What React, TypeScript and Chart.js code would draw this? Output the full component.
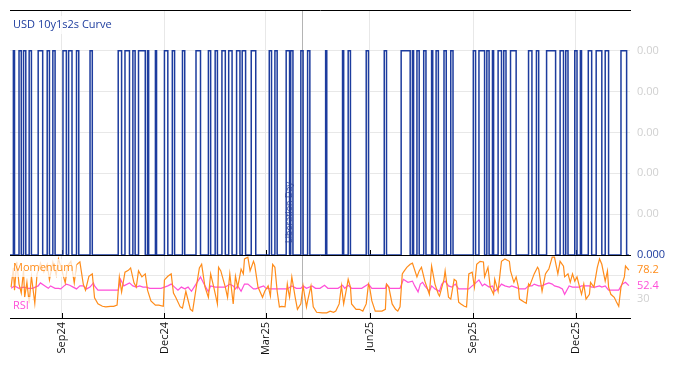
import React, { useEffect, useRef } from 'react';
import { Chart, registerables } from 'chart.js';

Chart.register(...registerables);

// Dates are counted in days from 2024-07-01.
const dayStart = 16;
const dayEnd = 566;
const monthDays = [62, 153, 243, 335, 427, 518];
const monthLabels = ['Sep24', 'Dec24', 'Mar25', 'Jun25', 'Sep25', 'Dec25'];

const titleText = 'USD 10y1s2s Curve';
const eventDay = 275;
const eventLabel = 'Liberation Day';

// Curve signal: value when "on", and [on, off] day pairs
const signalHigh = 0.001;
const signalLast = 0;
const signalPulses: [number, number][] = [
  [19, 20], [24, 26], [28, 30], [33, 35], [41, 45], [49, 51], [54, 56], [63, 66], [68, 71], [75, 77],
  [87, 89], [112, 115], [118, 122], [125, 127], [130, 136], [138, 139], [145, 146], [153, 156], [160, 162], [169, 171],
  [181, 185], [192, 194], [198, 200], [204, 207], [210, 213], [217, 220], [222, 225], [230, 234], [246, 248], [251, 253],
  [261, 264], [265, 267], [274, 276], [280, 282], [296, 297], [311, 312], [316, 318], [332, 334], [348, 350], [363, 371],
  [373, 374], [377, 379], [383, 385], [390, 391], [394, 396], [401, 403], [407, 409], [427, 429], [432, 437], [439, 441],
  [444, 445], [449, 452], [454, 456], [460, 465], [476, 479], [483, 485], [492, 500], [504, 507], [509, 511], [517, 519],
  [522, 523], [529, 532], [536, 541], [544, 547], [558, 563],
];

// Momentum [day, value]
const momentum: [number, number][] = [
  [17, 50], [19, 82], [20, 45], [22, 92], [24, 55], [26, 40], [28, 78], [29, 33], [31, 58], [33, 23],
  [35, 68], [36, 53], [38, 23], [40, 72], [42, 82], [43, 90], [46, 75], [49, 88], [51, 62], [54, 92],
  [57, 70], [59, 97], [62, 78], [65, 57], [67, 85], [70, 93], [73, 57], [75, 87], [78, 92], [81, 55],
  [83, 45], [86, 68], [89, 72], [91, 32], [94, 22], [98, 18], [101, 17], [105, 18], [108, 18], [111, 20],
  [113, 67], [115, 42], [118, 75], [121, 78], [123, 82], [126, 57], [128, 50], [130, 77], [133, 67], [136, 72],
  [138, 45], [141, 27], [145, 20], [148, 20], [152, 18], [153, 62], [156, 68], [159, 72], [161, 40], [163, 33],
  [167, 17], [169, 15], [172, 43], [176, 13], [178, 10], [181, 47], [184, 82], [186, 88], [189, 50], [192, 33],
  [194, 72], [197, 48], [200, 22], [201, 83], [203, 77], [207, 50], [209, 33], [211, 72], [214, 22], [216, 68],
  [218, 50], [221, 80], [223, 72], [224, 97], [227, 100], [229, 77], [232, 93], [233, 88], [236, 50], [240, 33],
  [242, 43], [245, 52], [247, 35], [249, 88], [251, 83], [253, 43], [255, 17], [257, 18], [260, 17], [262, 55],
  [263, 43], [264, 33], [266, 67], [269, 33], [271, 13], [274, 22], [276, 52], [279, 17], [280, 27], [283, 52],
  [285, 17], [288, 8], [293, 7], [297, 7], [300, 10], [303, 8], [305, 10], [308, 22], [310, 52], [312, 22],
  [315, 52], [316, 63], [318, 50], [319, 22], [323, 13], [326, 13], [329, 10], [332, 22], [334, 55], [335, 50],
  [337, 27], [340, 10], [343, 10], [346, 10], [349, 13], [350, 55], [352, 50], [355, 22], [358, 13], [360, 10],
  [362, 17], [364, 72], [365, 75], [368, 83], [371, 88], [373, 90], [377, 67], [379, 77], [381, 83], [384, 60],
  [388, 38], [390, 85], [393, 55], [396, 38], [397, 35], [401, 63], [402, 77], [405, 33], [407, 30], [410, 63],
  [412, 60], [414, 25], [416, 22], [419, 18], [421, 17], [423, 72], [426, 75], [428, 50], [430, 88], [433, 93],
  [436, 92], [437, 67], [440, 83], [442, 50], [445, 38], [446, 63], [449, 43], [451, 77], [452, 93], [455, 97],
  [459, 93], [460, 77], [463, 58], [465, 67], [467, 50], [468, 30], [472, 25], [474, 23], [476, 55], [477, 52],
  [481, 72], [484, 83], [485, 80], [488, 43], [491, 72], [492, 75], [494, 80], [497, 100], [499, 100], [502, 72],
  [504, 93], [507, 85], [508, 67], [511, 72], [513, 58], [515, 72], [517, 60], [519, 67], [521, 52], [523, 38],
  [525, 55], [527, 30], [530, 38], [531, 58], [534, 50], [537, 83], [539, 97], [541, 88], [544, 60], [546, 77],
  [547, 50], [549, 38], [552, 33], [554, 25], [556, 18], [558, 50], [561, 67], [562, 85], [565, 78.2],
];

// RSI [day, value]
const rsi: [number, number][] = [
  [17, 48], [20, 52], [24, 48], [28, 50], [32, 48], [36, 48], [41, 52], [43, 57], [47, 52], [50, 48],
  [52, 52], [56, 48], [59, 48], [61, 47], [64, 52], [66, 55], [69, 53], [72, 50], [75, 47], [78, 52],
  [81, 52], [84, 47], [87, 50], [90, 57], [91, 52], [94, 45], [100, 45], [106, 45], [112, 45], [114, 63],
  [117, 52], [122, 57], [125, 52], [128, 50], [131, 52], [134, 50], [137, 50], [140, 48], [145, 48], [150, 48],
  [153, 50], [156, 52], [159, 55], [162, 50], [165, 45], [168, 50], [171, 47], [174, 50], [177, 43], [181, 55],
  [185, 67], [189, 52], [192, 42], [194, 52], [198, 50], [200, 50], [207, 50], [211, 55], [214, 52], [216, 47],
  [218, 52], [221, 43], [224, 55], [227, 55], [232, 47], [234, 47], [238, 50], [241, 52], [243, 48], [247, 47],
  [253, 47], [258, 47], [262, 47], [266, 52], [270, 48], [274, 48], [276, 52], [279, 48], [284, 52], [287, 48],
  [291, 48], [295, 53], [298, 48], [303, 48], [307, 48], [311, 53], [313, 48], [316, 53], [319, 48], [324, 48],
  [328, 48], [334, 55], [337, 48], [342, 48], [349, 48], [350, 55], [353, 48], [358, 48], [362, 48], [365, 63],
  [369, 58], [373, 60], [375, 52], [378, 42], [380, 55], [382, 58], [384, 52], [388, 43], [390, 52], [393, 47],
  [397, 43], [399, 55], [402, 60], [405, 52], [408, 50], [411, 55], [414, 47], [419, 47], [423, 47], [426, 52],
  [428, 55], [432, 62], [435, 52], [437, 55], [441, 50], [444, 52], [446, 43], [450, 50], [452, 55], [455, 52],
  [459, 50], [461, 52], [464, 50], [468, 47], [473, 47], [476, 52], [479, 52], [481, 55], [485, 52], [488, 52],
  [491, 55], [494, 57], [497, 55], [499, 52], [503, 50], [506, 47], [508, 38], [512, 52], [515, 50], [517, 50],
  [521, 50], [523, 52], [526, 52], [530, 52], [532, 50], [535, 50], [539, 52], [541, 50], [544, 52], [547, 45],
  [553, 45], [556, 45], [559, 55], [562, 58], [565, 52.4],
];

const topTicks = [0, 0.0002, 0.0004, 0.0006, 0.0008, 0.001];
const bottomTicks = [30, 70];

const FONT = '"Open Sans", "DejaVu Sans", sans-serif';
const BLUE = '#1d3c9e';
const ORANGE = '#ff8c1a';
const MAGENTA = '#ff4fd8';
const GRAY_LABEL = '#d0d0d0';
const GRID = '#e8e8e8';

function buildSignal() {
  const pts: { x: number; y: number }[] = [{ x: dayStart, y: 0 }];
  for (const [on, off] of signalPulses) {
    pts.push({ x: on, y: signalHigh });
    pts.push({ x: off, y: 0 });
  }
  pts.push({ x: momentum[momentum.length - 1][0], y: signalLast });
  return pts;
}

const noPad = (s: any) => {
  s.paddingTop = 0;
  s.paddingBottom = 0;
  s.paddingLeft = 0;
  s.paddingRight = 0;
};

const panelPlugin = {
  id: 'panelDecor',
  beforeDatasetsDraw(chart: any) {
    const { ctx, chartArea } = chart;
    const xs = chart.scales.x;
    const yTop = chart.scales.y;
    ctx.save();
    const ex = Math.round(xs.getPixelForValue(eventDay)) + 0.5;
    ctx.strokeStyle = '#b4b4b4';
    ctx.lineWidth = 1;
    ctx.beginPath();
    ctx.moveTo(ex, chartArea.top);
    ctx.lineTo(ex, chartArea.bottom);
    ctx.stroke();
    ctx.strokeStyle = '#000';
    ctx.lineWidth = 1;
    for (const yy of [chartArea.top, yTop.bottom, chartArea.bottom]) {
      const py = Math.round(yy) + 0.5;
      ctx.beginPath();
      ctx.moveTo(chartArea.left, py);
      ctx.lineTo(chartArea.right + 1, py);
      ctx.stroke();
    }
    for (const d of monthDays) {
      const px = Math.round(xs.getPixelForValue(d)) + 0.5;
      for (const b of [yTop.bottom, chartArea.bottom]) {
        ctx.beginPath();
        ctx.moveTo(px, b - 5);
        ctx.lineTo(px, b);
        ctx.stroke();
      }
    }
    ctx.restore();
  },
  afterDatasetsDraw(chart: any) {
    const { ctx, chartArea } = chart;
    const xs = chart.scales.x;
    const yTop = chart.scales.y;
    const yBot = chart.scales.y2;
    ctx.save();
    const ex = xs.getPixelForValue(eventDay);
    ctx.translate(ex - 13, yTop.bottom - 12);
    ctx.rotate(-Math.PI / 2);
    ctx.font = `9px ${FONT}`;
    ctx.fillStyle = 'rgba(45,65,150,0.9)';
    ctx.textAlign = 'left';
    ctx.textBaseline = 'middle';
    ctx.fillText(eventLabel, 0, 0);
    ctx.restore();

    ctx.save();
    ctx.font = `11px ${FONT}`;
    ctx.textBaseline = 'middle';
    ctx.textAlign = 'left';
    const boxed = (text: string, x: number, y: number, color: string) => {
      const w = ctx.measureText(text).width;
      ctx.fillStyle = 'rgba(255,255,255,0.75)';
      ctx.fillRect(x - 3, y - 9, w + 6, 18);
      ctx.fillStyle = color;
      ctx.fillText(text, x, y);
    };
    boxed(titleText, chartArea.left + 3, chartArea.top + 15, BLUE);
    boxed('Momentum', chartArea.left + 3, yBot.top + 13, ORANGE);
    boxed('RSI', chartArea.left + 3, yBot.bottom - 12, MAGENTA);

    const rx = chartArea.right + 7;
    ctx.fillStyle = BLUE;
    ctx.fillText(signalLast.toFixed(3), rx, yTop.getPixelForValue(signalLast));
    const mLast = momentum[momentum.length - 1][1];
    const rLast = rsi[rsi.length - 1][1];
    ctx.fillStyle = ORANGE;
    ctx.fillText(mLast.toFixed(1), rx, yBot.getPixelForValue(mLast));
    ctx.fillStyle = MAGENTA;
    ctx.fillText(rLast.toFixed(1), rx, yBot.getPixelForValue(rLast));
    ctx.restore();
  },
};

function ChartView() {
  const ref = useRef<HTMLCanvasElement | null>(null);
  useEffect(() => {
    if (!ref.current) return;
    Chart.defaults.font.family = FONT;
    Chart.defaults.font.size = 11;
    const chart = new Chart(ref.current, {
      type: 'line',
      data: {
        datasets: [
          {
            label: titleText,
            data: buildSignal(),
            yAxisID: 'y',
            borderColor: BLUE,
            borderWidth: 1.5,
            stepped: true,
            pointRadius: 0,
            fill: false,
          },
          {
            label: 'Momentum',
            data: momentum.map(([x, y]) => ({ x, y })),
            yAxisID: 'y2',
            borderColor: ORANGE,
            borderWidth: 1.2,
            pointRadius: 0,
            fill: false,
          },
          {
            label: 'RSI',
            data: rsi.map(([x, y]) => ({ x, y })),
            yAxisID: 'y2',
            borderColor: MAGENTA,
            borderWidth: 1.2,
            pointRadius: 0,
            fill: false,
          },
        ],
      },
      options: {
        responsive: false,
        animation: false,
        layout: { padding: { top: 2, left: 2, right: 0, bottom: 0 } },
        plugins: { legend: { display: false }, tooltip: { enabled: false } },
        scales: {
          x: {
            type: 'linear',
            min: dayStart,
            max: dayEnd,
            afterBuildTicks: (s: any) => {
              s.ticks = monthDays.map((v) => ({ value: v }));
            },
            afterFit: (s: any) => {
              s.height = 40;
              noPad(s);
            },
            ticks: {
              autoSkip: false,
              maxRotation: 90,
              minRotation: 90,
              padding: 4,
              color: '#111',
              font: { size: 11, family: FONT },
              callback: (v: any) => {
                const i = monthDays.indexOf(Number(v));
                return i >= 0 ? monthLabels[i] : '';
              },
            },
            grid: { color: GRID, drawTicks: false },
            border: { display: false },
          },
          y: {
            type: 'linear',
            position: 'right',
            stack: 'panels',
            stackWeight: 245,
            min: 0,
            max: signalHigh * 1.2,
            afterBuildTicks: (s: any) => {
              s.ticks = topTicks.map((v) => ({ value: v }));
            },
            afterFit: (s: any) => {
              s.width = 36;
              noPad(s);
            },
            ticks: {
              padding: 7,
              color: GRAY_LABEL,
              font: { size: 11, family: FONT },
              callback: (v: any) => (Number(v) === 0 ? '' : Number(v).toFixed(2)),
            },
            grid: { color: GRID, drawTicks: false },
            border: { display: false },
          },
          y2: {
            type: 'linear',
            position: 'right',
            stack: 'panels',
            stackWeight: 63,
            min: -1.5,
            max: 103.5,
            afterBuildTicks: (s: any) => {
              s.ticks = bottomTicks.map((v) => ({ value: v }));
            },
            afterFit: (s: any) => {
              s.width = 36;
              noPad(s);
            },
            ticks: {
              padding: 7,
              color: GRAY_LABEL,
              font: { size: 11, family: FONT },
              callback: (v: any) => (Number(v) === 30 ? '30' : ''),
            },
            grid: { color: GRID, drawTicks: false },
            border: { display: false },
          },
        },
      },
      plugins: [panelPlugin],
    } as any);
    return () => chart.destroy();
  }, []);
  return <canvas ref={ref} width={658} height={350} style={{ display: 'block' }} />;
}

export default function App() {
  return (
    <div>
      <ChartView />
    </div>
  );
}
